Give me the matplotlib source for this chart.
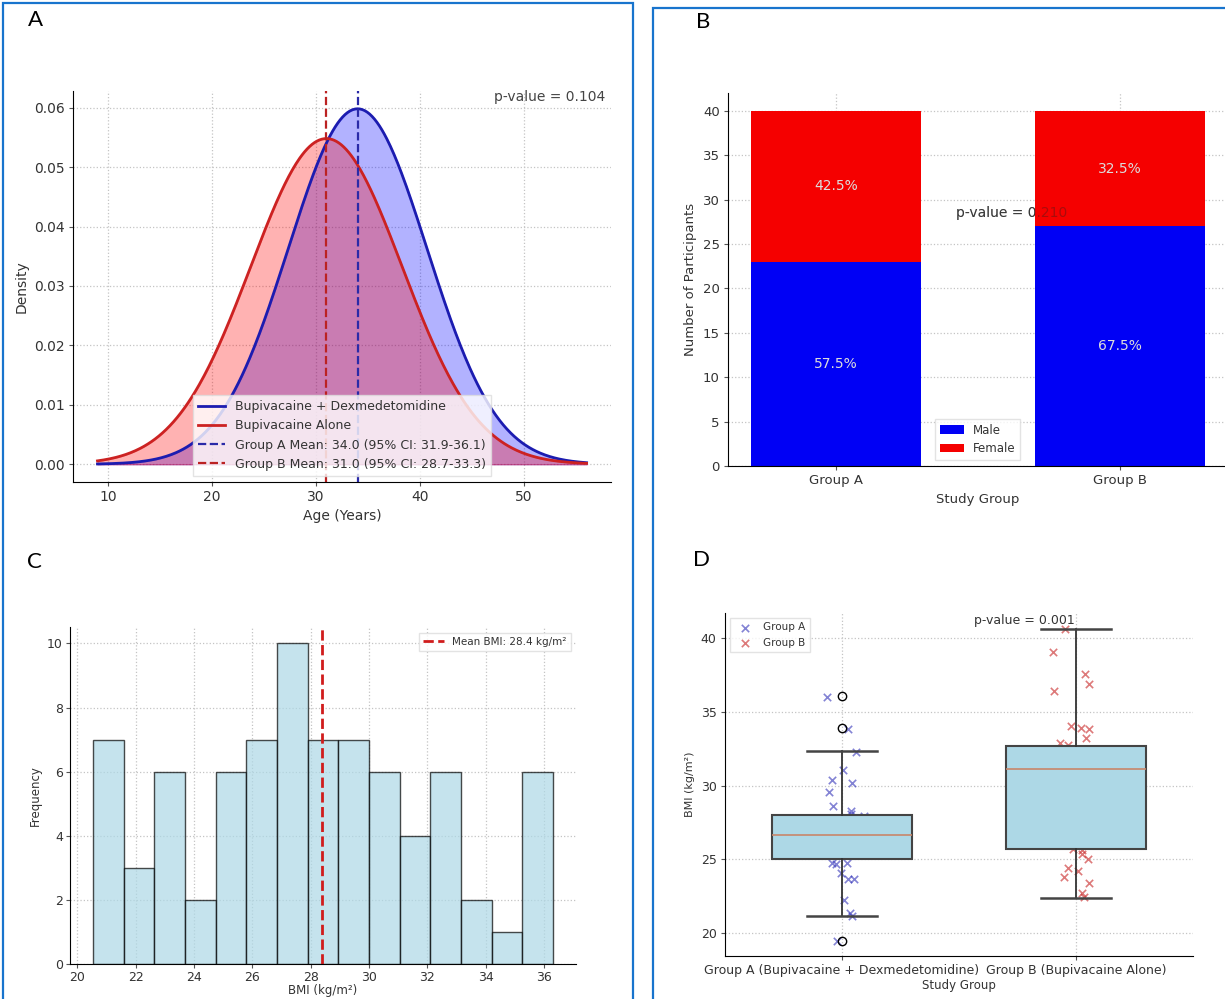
import numpy as np
import matplotlib.pyplot as plt
from matplotlib.patches import Rectangle

# ---- Panel A: age distributions (normal fits) ----
age_means = [34.0, 31.0]
age_sds = [6.67, 7.28]
age_span = [9, 56]
age_names = ['Bupivacaine + Dexmedetomidine', 'Bupivacaine Alone']
age_ci = [(31.9, 36.1), (28.7, 33.3)]
age_p = 0.104

# ---- Panel B: sex distribution ----
groups = ['Group A', 'Group B']
male = [23, 27]
female = [17, 13]
sex_p = 0.210

# ---- Panel C: BMI histogram ----
bmi_counts = [7, 3, 6, 2, 6, 7, 10, 7, 7, 6, 4, 6, 2, 1, 6]
bmi_lo, bmi_hi = 20.53, 36.31
bmi_mean = 28.4

# ---- Panel D: BMI by group ----
box_names = ['Group A (Bupivacaine + Dexmedetomidine)', 'Group B (Bupivacaine Alone)']
box_q1 = [25.05, 25.73]
box_med = [26.64, 31.12]
box_q3 = [28.0, 32.71]
box_whislo = [21.16, 22.40]
box_whishi = [32.34, 40.63]
box_fliers = [[36.1, 33.88, 19.43], []]
bmi_p = 0.001

a_bmi = [36.04, 33.85, 32.31, 31.06, 30.36, 30.16, 29.55, 28.62, 28.26, 28.08, 27.96,
         24.75, 24.68, 24.77, 24.05, 23.64, 23.64, 22.26, 21.33, 21.15, 19.43,
         27.5, 26.8, 26.1, 25.6, 25.3]
a_jit = [-0.064, 0.026, 0.058, 0.003, -0.041, 0.042, -0.057, -0.038, 0.038, 0.038, 0.094,
         -0.042, -0.025, 0.020, -0.003, 0.026, 0.051, 0.010, 0.033, 0.043, -0.022,
         0.01, -0.03, 0.05, -0.02, 0.04]
b_bmi = [40.61, 39.07, 37.56, 36.86, 36.40, 34.03, 33.91, 33.87, 33.26, 32.92, 32.78,
         25.72, 25.61, 25.38, 25.05, 24.43, 24.19, 23.80, 23.39, 22.71, 22.44,
         31.5, 30.2, 28.7, 27.4, 26.5]
b_jit = [-0.046, -0.099, 0.039, 0.056, -0.092, -0.023, 0.020, 0.056, 0.044, -0.067, -0.033,
         -0.011, 0.027, 0.026, 0.050, -0.032, 0.007, -0.052, 0.055, 0.027, 0.033,
         0.02, -0.04, 0.06, -0.01, 0.03]

plt.rcParams.update({
    'font.family': 'DejaVu Sans',
    'axes.spines.top': False,
    'axes.spines.right': False,
    'axes.grid': True,
    'axes.axisbelow': True,
    'grid.linestyle': ':',
    'grid.color': '#c4c4c4',
    'grid.linewidth': 0.9,
    'xtick.major.size': 3,
    'ytick.major.size': 3,
    'xtick.major.width': 0.8,
    'ytick.major.width': 0.8,
    'xtick.major.pad': 3,
    'ytick.major.pad': 3,
    'axes.labelcolor': '#333333',
    'xtick.color': '#555555',
    'ytick.color': '#555555',
    'xtick.labelcolor': '#333333',
    'ytick.labelcolor': '#333333',
    'text.color': '#333333',
})

fig = plt.figure(figsize=(12.25, 9.99), dpi=100)

# panel frames
frame_col = '#1874cd'
fig.add_artist(Rectangle((0.0025, -0.05), 0.5143, 1.047, transform=fig.transFigure,
                         fill=False, ec=frame_col, lw=1.6))
fig.add_artist(Rectangle((0.533, -0.05), 0.6, 1.042, transform=fig.transFigure,
                         fill=False, ec=frame_col, lw=1.6))
for lbl, x, y in [('A', 0.029, 0.980), ('B', 0.574, 0.978), ('C', 0.028, 0.437), ('D', 0.573, 0.439)]:
    fig.text(x, y, lbl, fontsize=16, family='Lato', color='black', ha='center', va='center')

# ---- A ----
axA = fig.add_axes([0.0596, 0.5175, 0.4392, 0.3914])
ages = np.linspace(age_span[0], age_span[1], 400)
line_cols = ['#1c1cb0', '#cc2222']
fill_cols = ['blue', 'red']
for m, s, name, lc, fc in zip(age_means, age_sds, age_names, line_cols, fill_cols):
    dens = np.exp(-0.5 * ((ages - m) / s) ** 2) / (s * np.sqrt(2 * np.pi))
    axA.plot(ages, dens, color=lc, lw=2, label=name)
    axA.fill_between(ages, dens, color=fc, alpha=0.3)
for m, ci, lc, g in zip(age_means, age_ci, ['#2a2aa8', '#bb2222'], ['A', 'B']):
    axA.axvline(m, color=lc, ls='--', lw=1.6,
                label=f'Group {g} Mean: {m:.1f} (95% CI: {ci[0]}-{ci[1]})')
axA.text(0.99, 0.985, f'p-value = {age_p:.3f}', transform=axA.transAxes,
         ha='right', va='center', fontsize=10, color='#444444')
axA.set_xlabel('Age (Years)', fontsize=10, labelpad=3)
axA.set_ylabel('Density', fontsize=10)
axA.tick_params(labelsize=10)
axA.legend(loc='lower center', fontsize=9, fancybox=False, edgecolor='#dddddd',
           handlelength=2.2)

# ---- B ----
axB = fig.add_axes([0.5943, 0.5335, 0.408, 0.3734])
xb = np.arange(len(groups))
axB.text(0.62, 28.5, f'p-value = {sex_p:.3f}', ha='center', va='center',
         fontsize=10, color='#444444', zorder=1)
axB.text(0.62, 28.5, f'p-value = {sex_p:.3f}', ha='center', va='center',
         fontsize=10, color='#222222', alpha=0.35, zorder=5)
axB.bar(xb, male, width=0.6, color='#0000f5', label='Male', zorder=2)
axB.bar(xb, female, width=0.6, bottom=male, color='#f50000', label='Female', zorder=2)
for i in range(len(groups)):
    tot = male[i] + female[i]
    axB.text(xb[i], male[i] / 2, f'{male[i] / tot * 100:.1f}%', ha='center', va='center',
             color='#dcdcdc', fontsize=10, zorder=6)
    axB.text(xb[i], male[i] + female[i] / 2, f'{female[i] / tot * 100:.1f}%', ha='center',
             va='center', color='#dcdcdc', fontsize=10, zorder=6)
axB.set_xticks(xb)
axB.set_xticklabels(groups)
axB.set_yticks(np.arange(0, 41, 5))
axB.set_xlabel('Study Group', fontsize=9.5)
axB.set_ylabel('Number of Participants', fontsize=9.5)
axB.tick_params(labelsize=9.5)
axB.legend(loc='lower center', fontsize=8.5, fancybox=False, edgecolor='#dddddd')

# ---- C ----
axC = fig.add_axes([0.0571, 0.035, 0.413, 0.337])
edges = np.linspace(bmi_lo, bmi_hi, len(bmi_counts) + 1)
axC.bar(edges[:-1], bmi_counts, width=np.diff(edges), align='edge',
        color='lightblue', edgecolor='black', alpha=0.7, lw=1)
axC.axvline(bmi_mean, color='#d01c1c', ls='--', lw=2,
            label=f'Mean BMI: {bmi_mean} kg/m²')
axC.set_xticks(np.arange(20, 37, 2))
axC.set_xlabel('BMI (kg/m²)', fontsize=8.5, labelpad=0)
axC.set_ylabel('Frequency', fontsize=8.5)
axC.tick_params(labelsize=9, pad=2)
axC.legend(loc='upper right', fontsize=7.5, fancybox=False, edgecolor='#dddddd')

# ---- D ----
axD = fig.add_axes([0.5918, 0.043, 0.382, 0.3433])
axD.scatter(1 + np.array(a_jit), a_bmi, marker='x', color='#3030b8', alpha=0.6,
            s=28, lw=1.2, label='Group A', zorder=1)
axD.scatter(2 + np.array(b_jit), b_bmi, marker='x', color='#cc3333', alpha=0.65,
            s=28, lw=1.2, label='Group B', zorder=1)
stats = []
for i in range(len(box_names)):
    stats.append({'med': box_med[i], 'q1': box_q1[i], 'q3': box_q3[i],
                  'whislo': box_whislo[i], 'whishi': box_whishi[i],
                  'fliers': box_fliers[i], 'label': box_names[i]})
axD.bxp(stats, positions=[1, 2], widths=0.6, patch_artist=True,
        boxprops=dict(facecolor='lightblue', edgecolor='#444444', lw=1.5),
        whiskerprops=dict(color='#333333', lw=1.3),
        capprops=dict(color='#444444', lw=1.8),
        medianprops=dict(color='#c8866a', lw=1.2),
        flierprops=dict(marker='o', markerfacecolor='none', markeredgecolor='black',
                        markersize=6))
axD.text(1.78, 41.2, f'p-value = {bmi_p:.3f}', ha='center', va='center',
         fontsize=9, color='#333333')
axD.set_xlim(0.5, 2.5)
axD.set_ylim(18.44, 41.7)
axD.set_yticks([20, 25, 30, 35, 40])
axD.set_xlabel('Study Group', fontsize=8.5, labelpad=1)
axD.set_ylabel('BMI (kg/m²)', fontsize=8)
axD.tick_params(labelsize=9)
axD.legend(loc='upper left', fontsize=7.5, fancybox=False, edgecolor='#dddddd')

fig.savefig('out.png', dpi=100)
